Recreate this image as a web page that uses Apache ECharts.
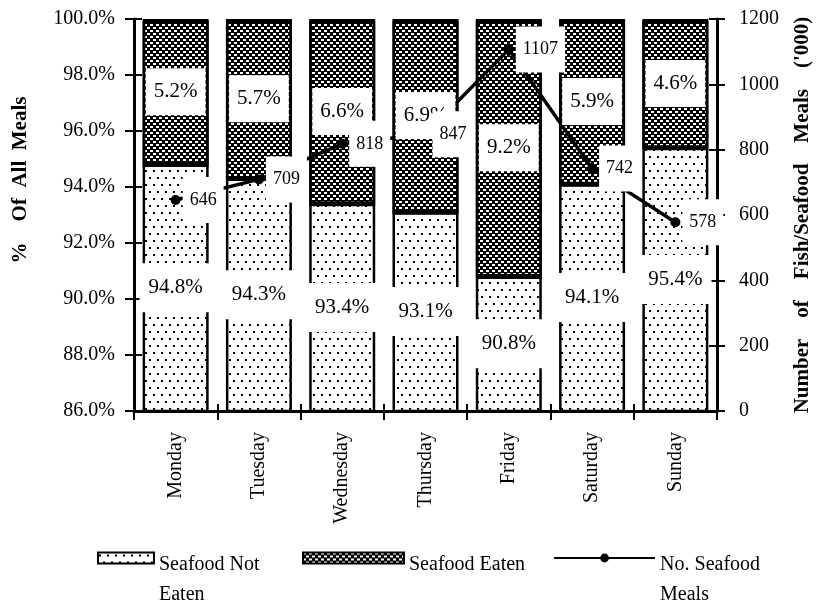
<!DOCTYPE html>
<html>
<head>
<meta charset="utf-8">
<script src="https://cdn.jsdelivr.net/npm/echarts@6/dist/echarts.min.js"></script>
<style>
  html, body { margin: 0; padding: 0; background: #fff; }
  #chart { width: 821px; height: 604px; }
</style>
</head>
<body>
<div id="chart"></div>
<script>
// Share of meals by weekday, with and without seafood, plus number of seafood meals ('000)
const days = ['Monday', 'Tuesday', 'Wednesday', 'Thursday', 'Friday', 'Saturday', 'Sunday'];
const notEaten = [94.8, 94.3, 93.4, 93.1, 90.8, 94.1, 95.4];
const eaten = [5.2, 5.7, 6.6, 6.9, 9.2, 5.9, 4.6];
const seafoodMeals = [646, 709, 818, 847, 1107, 742, 578];
const pctAxis = [86, 100, 2];      // min, max, step
const mealsAxis = [0, 1200, 200];  // min, max, step

const SERIF = '"Liberation Serif", "Times New Roman", serif';

// Fill textures for the two bar segments
function dotTexture() {
  const c = document.createElement('canvas');
  c.width = 8; c.height = 14;
  const g = c.getContext('2d');
  g.fillStyle = '#fff'; g.fillRect(0, 0, 8, 14);
  g.fillStyle = '#000';
  g.fillRect(1, 2, 2, 2);
  g.fillRect(5, 9, 2, 2);
  return c;
}
function meshTexture() {
  const c = document.createElement('canvas');
  c.width = 6; c.height = 6;
  const g = c.getContext('2d');
  g.fillStyle = '#000'; g.fillRect(0, 0, 6, 6);
  g.fillStyle = '#fff';
  g.fillRect(0, 0, 3, 2);
  g.fillRect(3, 3, 3, 2);
  return c;
}
const dots = { image: dotTexture(), repeat: 'repeat' };
const mesh = { image: meshTexture(), repeat: 'repeat' };

const tickStyle = { color: '#000', width: 2 };
const axisText = { color: '#000', fontFamily: SERIF, fontSize: 20 };

function innerTickAxis(pos, range) {
  return {
    type: 'value', position: pos, min: range[0], max: range[1], interval: range[2],
    axisLine: { show: false },
    axisTick: { show: true, inside: true, length: 8, lineStyle: tickStyle },
    axisLabel: { show: false },
    splitLine: { show: false }
  };
}

// Legend text: a spacer line on top so the first text line sits level with the key
const legendRich = {
  gap2: { lineHeight: 44, fontSize: 4 },
  gap1: { lineHeight: 14, fontSize: 4 },
  t: { color: '#000', fontFamily: SERIF, fontSize: 20, lineHeight: 30 }
};
function legendLabel(name) {
  if (name === 'Seafood Not Eaten') return '{gap2| }\n{t|Seafood Not}\n{t|Eaten}';
  if (name === 'No. Seafood Meals') return '{gap2| }\n{t|No. Seafood}\n{t|Meals}';
  return '{gap1| }\n{t|' + name + '}';
}

const chart = echarts.init(document.getElementById('chart'), null, { renderer: 'canvas' });

chart.setOption({
  backgroundColor: '#fff',
  animation: false,
  textStyle: { fontFamily: SERIF },
  grid: { left: 134, right: 99, top: 19, bottom: 193, containLabel: false },
  xAxis: [
    {
      type: 'category', data: days, position: 'bottom',
      axisLine: { lineStyle: { color: '#000', width: 3 } },
      axisTick: { show: true, length: 9, lineStyle: tickStyle },
      axisLabel: Object.assign({ rotate: 90, margin: 21, interval: 0 }, axisText),
      splitLine: { show: false }
    },
    {
      type: 'category', data: days, position: 'bottom',
      axisLine: { show: false },
      axisTick: { show: true, inside: true, length: 7, lineStyle: tickStyle },
      axisLabel: { show: false },
      splitLine: { show: false }
    }
  ],
  yAxis: [
    {
      type: 'value', position: 'left',
      min: pctAxis[0], max: pctAxis[1], interval: pctAxis[2],
      axisLine: { show: true, lineStyle: { color: '#000', width: 3 } },
      axisTick: { show: true, length: 9, lineStyle: tickStyle },
      axisLabel: Object.assign({ margin: 19, formatter: v => v.toFixed(1) + '%' }, axisText),
      splitLine: { show: false },
      name: '%    Of  All  Meals',
      nameLocation: 'middle', nameRotate: 90, nameGap: 103,
      nameTextStyle: { color: '#000', fontFamily: SERIF, fontSize: 21, fontWeight: 'bold', padding: [0, 0, 0, 70] }
    },
    {
      type: 'value', position: 'right',
      min: mealsAxis[0], max: mealsAxis[1], interval: mealsAxis[2],
      axisLine: { show: true, lineStyle: { color: '#000', width: 3 } },
      axisTick: { show: true, length: 8, lineStyle: tickStyle },
      axisLabel: Object.assign({ margin: 22, formatter: v => String(v) }, axisText),
      splitLine: { show: false },
      name: "Number    of    Fish/Seafood    Meals    ('000)",
      nameLocation: 'middle', nameRotate: 90, nameGap: 75,
      nameTextStyle: { color: '#000', fontFamily: SERIF, fontSize: 21, fontWeight: 'bold' }
    },
    innerTickAxis('left', pctAxis),
    innerTickAxis('right', mealsAxis)
  ],
  legend: [
    {
      left: 97, top: 526, padding: 0,
      itemWidth: 56, itemHeight: 11,
      selectedMode: false,
      formatter: legendLabel,
      textStyle: { color: '#000', fontFamily: SERIF, fontSize: 20, rich: legendRich },
      data: [{ name: 'Seafood Not Eaten', icon: 'rect' }]
    },
    {
      left: 302, top: 526, padding: 0,
      itemWidth: 101, itemHeight: 11, itemGap: 28,
      selectedMode: false,
      formatter: legendLabel,
      textStyle: { color: '#000', fontFamily: SERIF, fontSize: 20, rich: legendRich },
      data: [
        { name: 'Seafood Eaten', icon: 'rect', itemStyle: { shadowColor: 'rgba(0,0,0,0)' } },
        { name: 'No. Seafood Meals', lineStyle: { width: 2 } }
      ]
    }
  ],
  series: [
    {
      name: 'Seafood Not Eaten', type: 'bar', stack: 'share',
      barWidth: 66, barGap: '-100%', z: 2,
      data: notEaten,
      itemStyle: { color: dots, borderColor: '#000', borderWidth: 2.5 }
    },
    {
      name: 'Seafood Eaten', type: 'bar', stack: 'share',
      barWidth: 66, barGap: '-100%', z: 2,
      data: eaten,
      itemStyle: {
        color: mesh, borderColor: '#000', borderWidth: 2.5,
        shadowColor: '#000', shadowBlur: 0, shadowOffsetY: 2
      }
    },
    {
      name: 'No. Seafood Meals', type: 'line', yAxisIndex: 1, z: 3,
      data: seafoodMeals,
      symbol: 'circle', symbolSize: 10,
      lineStyle: { color: '#000', width: 3.5 },
      itemStyle: { color: '#000' }
    },
    // Percentage captions, drawn above the line
    {
      name: 'notEatenCaption', type: 'bar', stack: 'caption',
      barWidth: 66, barGap: '-100%', z: 4, silent: true,
      data: notEaten,
      itemStyle: { color: 'rgba(0,0,0,0)', borderWidth: 0 },
      label: {
        show: true, position: 'inside',
        formatter: p => p.value.toFixed(1) + '%',
        color: '#000', fontFamily: SERIF, fontSize: 21, lineHeight: 21,
        backgroundColor: '#fff', padding: [14, 9], textBorderWidth: 0
      }
    },
    {
      name: 'eatenCaption', type: 'bar', stack: 'caption',
      barWidth: 66, barGap: '-100%', z: 4, silent: true,
      data: eaten,
      itemStyle: { color: 'rgba(0,0,0,0)', borderWidth: 0 },
      label: {
        show: true, position: 'inside',
        formatter: p => p.value.toFixed(1) + '%',
        color: '#000', fontFamily: SERIF, fontSize: 21, lineHeight: 21,
        backgroundColor: '#fff', padding: [13, 8], textBorderWidth: 0
      }
    },
    // Meal-count captions, on top of everything
    {
      name: 'mealsCaption', type: 'line', yAxisIndex: 1, z: 5, silent: true,
      data: seafoodMeals,
      symbol: 'circle', symbolSize: 10,
      lineStyle: { opacity: 0, width: 0 },
      itemStyle: { color: 'rgba(0,0,0,0)' },
      label: {
        show: true, position: 'right', distance: 2,
        color: '#000', fontFamily: SERIF, fontSize: 18, lineHeight: 18,
        backgroundColor: '#fff', padding: [14, 7], textBorderWidth: 0
      }
    }
  ]
});
</script>
</body>
</html>
